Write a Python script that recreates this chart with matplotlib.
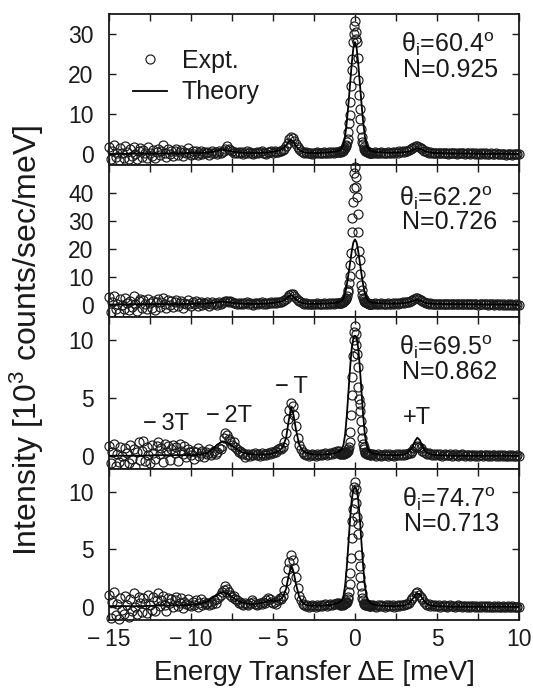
"""
Energy-transfer spectra at four incidence angles: measured points vs. theory.
"""

import numpy as np
import matplotlib
matplotlib.use("Agg")
import matplotlib.pyplot as plt

plt.rcParams["font.family"] = ["Liberation Sans", "DejaVu Sans"]
plt.rcParams["mathtext.fontset"] = "custom"
plt.rcParams["mathtext.rm"] = "Liberation Sans"
plt.rcParams["mathtext.it"] = "Liberation Sans:italic"
plt.rcParams["mathtext.bf"] = "Liberation Sans:bold"

# energy grids of the measured points (meV): coarse wings, finer around the elastic peak
E_LEFT = np.round(-15.0 + 0.1 * np.arange(141), 2)
E_PEAK = np.round(-0.96 + 0.04 * np.arange(49), 2)
E_RIGHT = np.round(1.0 + 0.1 * np.arange(91), 2)

# ---- theta_i = 60.4 deg ----
P1_LEFT = [
    1.8, -1.2, 0.9, 2.4, -0.8, 0.3, -1.5, 1.6, 0.2, -0.9,     # -15.0
    2.1, 0.5, -1.1, 1.2, -0.4, 1.9, 0.1, -1.3, 0.8, 1.5,      # -14.0
    -0.6, 1.1, 0.3, -0.9, 1.7, 0.4, -0.5, 1.0, -1.0, 0.6,     # -13.0
    1.4, -0.3, 0.7, 2.2, 0.2, -0.7, 1.2, 0.0, 0.9, -0.4,      # -12.0
    0.8, 1.3, -0.2, 0.5, 1.0, -0.5, 0.6, 0.2, 1.6, 0.3,       # -11.0
    -0.3, 0.7, 0.1, 0.9, -0.2, 0.4, 0.8, 0.0, 0.5, 0.3,       # -10.0
    0.6, -0.1, 0.4, 0.9, 0.2, 0.5, 0.0, 0.7, 0.3, 0.6,        # -9.0
    0.9, 1.2, 2.0, 1.4, 1.1, 0.8, 0.4, 0.6, 0.2, 0.5,         # -8.0
    0.3, 0.6, 0.1, 0.4, 0.7, 0.2, 0.5, 0.3, 0.0, 0.4,         # -7.0
    0.6, 0.2, 0.5, 0.8, 0.3, 0.4, 0.1, 0.6, 0.5, 0.7,         # -6.0
    0.4, 0.8, 0.5, 0.6, 0.9, 0.7, 1.0, 1.4, 2.0, 2.9,         # -5.0
    3.8, 4.3, 4.1, 3.4, 2.6, 1.8, 1.2, 0.9, 0.6, 0.4,         # -4.0
    0.5, 0.2, 0.4, 0.3, 0.1, 0.4, 0.2, 0.5, 0.3, 0.4,         # -3.0
    0.3, 0.5, 0.2, 0.4, 0.6, 0.3, 0.5, 0.4, 0.6, 0.5,         # -2.0
    0.6,                                                      # -1.0
]
P1_PEAK = [
    0.6, 0.7, 0.6, 0.8, 0.9, 0.9, 1.0, 1.2, 1.4, 1.6,         # -0.96
    2.0, 2.4, 3.0, 3.9, 5.6, 7.7, 9.8, 13.0, 17.0, 21.0,      # -0.56
    23.8, 28.0, 30.0, 32.0, 33.3, 30.6, 28.7, 28.0, 23.9, 18.5,  # -0.16
    14.8, 11.4, 8.9, 6.2, 4.3, 3.0, 2.5, 1.9, 1.4, 1.1,       # 0.24
    0.9, 0.8, 0.7, 0.6, 0.5, 0.5, 0.4, 0.4, 0.3,              # 0.64
]
P1_RIGHT = [
    0.4, 0.3, 0.5, 0.2, 0.4, 0.3, 0.5, 0.2, 0.4, 0.3,         # 1.0
    0.5, 0.3, 0.4, 0.6, 0.3, 0.5, 0.4, 0.7, 0.5, 0.8,         # 2.0
    0.6, 0.9, 0.7, 1.0, 1.2, 1.5, 1.8, 2.0, 2.1, 1.8,         # 3.0
    1.5, 1.2, 0.9, 0.7, 0.5, 0.4, 0.5, 0.3, 0.4, 0.2,         # 4.0
    0.3, 0.4, 0.2, 0.3, 0.4, 0.2, 0.3, 0.1, 0.3, 0.2,         # 5.0
    0.3, 0.2, 0.1, 0.3, 0.2, 0.4, 0.2, 0.1, 0.3, 0.2,         # 6.0
    0.1, 0.2, 0.3, 0.1, 0.2, 0.0, 0.2, 0.1, 0.3, 0.1,         # 7.0
    0.2, 0.0, 0.1, 0.2, 0.1, 0.0, 0.2, 0.1, 0.0, 0.1,         # 8.0
    0.0, 0.1, -0.1, 0.1, 0.0, 0.1, -0.1, 0.0, 0.1, 0.0,       # 9.0
    0.0,                                                      # 10.0
]

# ---- theta_i = 62.2 deg ----
P2_LEFT = [
    2.8, -2.5, 1.2, 3.1, -1.4, 0.5, -2.8, 2.2, 0.1, -1.6,
    2.5, 0.8, -1.9, 1.6, -0.7, 3.3, 0.3, -2.1, 1.4, 2.0,
    -1.0, 1.8, 0.4, -1.5, 2.3, 0.6, -0.9, 1.5, -1.7, 0.9,
    2.0, -0.6, 1.1, 2.4, 0.3, -1.2, 1.7, 0.0, 1.3, -0.8,
    1.2, 1.9, -0.4, 0.7, 1.5, -0.9, 0.8, 0.2, 1.8, 0.4,
    -0.5, 1.0, 0.2, 1.3, -0.4, 0.6, 1.1, 0.0, 0.8, 0.3,
    0.9, -0.2, 0.5, 1.2, 0.3, 0.7, -0.1, 0.9, 0.4, 0.8,
    1.0, 1.3, 1.6, 1.2, 1.5, 0.9, 0.6, 0.8, 0.3, 0.7,
    0.4, 0.8, 0.2, 0.6, 0.9, 0.3, 0.7, 0.5, 0.1, 0.6,
    0.8, 0.4, 0.7, 1.0, 0.5, 0.6, 0.3, 0.8, 0.7, 0.9,
    0.6, 1.0, 0.7, 0.9, 1.1, 1.0, 1.3, 1.7, 2.3, 3.0,
    3.6, 4.1, 3.9, 3.3, 2.5, 1.8, 1.3, 1.0, 0.7, 0.5,
    0.6, 0.3, 0.5, 0.4, 0.2, 0.5, 0.3, 0.6, 0.4, 0.5,
    0.4, 0.6, 0.3, 0.5, 0.7, 0.4, 0.6, 0.5, 0.7, 0.6,
    0.7,
]
P2_PEAK = [
    0.6, 0.7, 0.8, 0.7, 0.9, 1.0, 1.1, 1.3, 1.5, 1.8,
    2.1, 2.6, 3.3, 4.5, 5.5, 8.0, 10.5, 14.5, 18.5, 26.2,
    31.2, 36.8, 42.0, 47.3, 49.5, 46.0, 42.4, 38.6, 32.6, 26.1,
    19.2, 16.0, 11.0, 7.0, 5.5, 3.5, 2.6, 2.0, 1.5, 1.2,
    1.0, 0.9, 0.8, 0.7, 0.6, 0.5, 0.5, 0.4, 0.4,
]
P2_RIGHT = [
    0.5, 0.3, 0.6, 0.2, 0.5, 0.3, 0.6, 0.2, 0.5, 0.4,
    0.6, 0.3, 0.5, 0.7, 0.4, 0.6, 0.5, 0.8, 0.6, 0.9,
    0.8, 1.0, 0.9, 1.2, 1.4, 1.7, 2.1, 2.4, 2.6, 2.2,
    1.8, 1.4, 1.1, 0.8, 0.6, 0.5, 0.6, 0.4, 0.5, 0.3,
    0.4, 0.5, 0.3, 0.4, 0.5, 0.3, 0.4, 0.2, 0.4, 0.3,
    0.4, 0.3, 0.2, 0.4, 0.3, 0.5, 0.3, 0.2, 0.4, 0.3,
    0.2, 0.3, 0.4, 0.2, 0.3, 0.1, 0.3, 0.2, 0.4, 0.2,
    0.3, 0.1, 0.2, 0.3, 0.2, 0.1, 0.3, 0.2, 0.1, 0.2,
    0.1, 0.2, 0.0, 0.2, 0.1, 0.2, 0.0, 0.1, 0.2, 0.1,
    0.1,
]

# ---- theta_i = 69.5 deg ----
P3_LEFT = [
    0.9, -0.6, 0.4, 1.1, -0.8, 0.2, -0.5, 0.8, 0.0, -0.7,
    0.7, 0.3, -0.6, 1.0, -0.2, 0.6, -0.9, 0.4, 1.2, -0.3,
    0.5, 1.3, -0.4, 0.8, 0.1, -0.6, 1.0, 0.3, -0.2, 0.9,
    1.2, 0.2, 0.7, -0.5, 1.1, 0.4, 0.9, -0.3, 0.6, 1.0,
    0.3, 0.8, -0.4, 1.1, 0.5, 0.2, 0.9, -0.1, 0.6, 0.4,
    0.1, 0.5, -0.2, 0.4, 0.7, 0.0, 0.3, 0.5, -0.1, 0.4,
    0.2, 0.6, 0.1, 0.3, 0.5, 0.2, 0.4, 0.7, 0.6, 0.9,
    1.6, 2.0, 1.8, 1.5, 1.3, 1.0, 1.2, 0.8, 0.6, 0.4,
    0.5, 0.2, 0.3, -0.1, 0.1, 0.2, 0.0, 0.2, 0.1, 0.3,
    0.1, 0.2, 0.0, 0.3, 0.1, 0.2, 0.1, 0.3, 0.2, 0.4,
    0.3, 0.5, 0.4, 0.6, 0.7, 0.6, 0.8, 1.2, 2.0, 3.2,
    4.0, 4.6, 4.3, 3.6, 2.6, 1.6, 1.0, 0.6, 0.4, 0.2,
    0.1, 0.2, 0.0, 0.1, 0.2, 0.1, 0.0, 0.2, 0.1, 0.2,
    0.1, 0.2, 0.3, 0.1, 0.2, 0.3, 0.2, 0.4, 0.3, 0.5,
    0.5,
]
P3_PEAK = [
    0.3, 0.2, 0.3, 0.2, 0.3, 0.2, 0.3, 0.3, 0.2, 0.3,
    0.3, 0.4, 0.4, 0.5, 0.6, 0.8, 1.2, 2.1, 3.6, 5.3,
    6.8, 8.6, 10.0, 10.7, 11.2, 10.5, 9.6, 8.8, 7.7, 6.0,
    4.9, 4.5, 3.9, 3.0, 2.3, 1.6, 1.1, 0.8, 0.6, 0.4,
    0.3, 0.3, 0.2, 0.2, 0.3, 0.2, 0.2, 0.1, 0.2,
]
P3_RIGHT = [
    0.1, 0.2, 0.1, 0.0, 0.2, 0.1, 0.0, 0.1, 0.2, 0.1,
    0.0, 0.2, 0.1, 0.1, 0.0, 0.2, 0.1, 0.2, 0.1, 0.2,
    0.1, 0.2, 0.2, 0.3, 0.3, 0.5, 0.7, 0.8, 0.9, 0.8,
    0.7, 0.5, 0.4, 0.3, 0.2, 0.3, 0.2, 0.1, 0.2, 0.1,
    0.2, 0.1, 0.2, 0.0, 0.1, 0.2, 0.1, 0.1, 0.2, 0.0,
    0.1, 0.2, 0.1, 0.0, 0.1, 0.2, 0.1, 0.0, 0.1, 0.1,
    0.0, 0.1, 0.1, 0.0, 0.1, 0.0, 0.1, 0.1, 0.0, 0.1,
    0.1, 0.0, 0.1, 0.0, 0.1, 0.1, 0.0, 0.1, 0.0, 0.1,
    0.0, 0.1, 0.0, 0.0, 0.1, 0.0, 0.1, 0.0, 0.0, 0.1,
    0.0,
]

# ---- theta_i = 74.7 deg ----
P4_LEFT = [
    1.1, -0.9, 0.5, 1.3, -0.7, 0.3, -1.0, 0.8, -0.2, -0.6,
    1.0, 0.2, -0.8, 0.7, -0.3, 1.2, 0.0, -0.6, 0.9, 0.4,
    -0.4, 0.8, 0.3, -0.5, 1.1, 0.2, -0.2, 0.9, -0.3, 0.6,
    1.2, 0.1, 0.6, 1.0, 0.2, -0.3, 0.8, 0.4, 0.7, 0.0,
    0.6, 0.9, 0.1, 0.4, 0.8, -0.1, 0.5, 0.3, 0.7, 0.2,
    0.1, 0.5, 0.2, 0.6, 0.0, 0.4, 0.7, 0.2, 0.5, 0.3,
    0.4, 0.2, 0.5, 0.3, 0.6, 0.4, 0.7, 0.9, 1.1, 1.3,
    1.5, 1.8, 1.6, 1.3, 1.1, 0.9, 1.0, 0.7, 0.6, 0.4,
    0.5, 0.3, 0.2, 0.4, 0.3, 0.2, 0.4, 0.6, 0.5, 0.3,
    0.2, 0.3, 0.4, 0.3, 0.5, 0.4, 0.6, 0.8, 0.7, 0.5,
    0.4, 0.5, 0.3, 0.6, 0.8, 0.7, 1.0, 1.5, 2.3, 3.3,
    3.9, 4.5, 4.1, 3.4, 2.6, 1.7, 1.0, 0.6, 0.3, 0.2,
    0.1, 0.2, 0.0, 0.1, 0.2, 0.1, 0.0, 0.2, 0.1, 0.2,
    0.1, 0.2, 0.3, 0.1, 0.2, 0.3, 0.2, 0.3, 0.3, 0.4,
    0.4,
]
P4_PEAK = [
    0.3, 0.2, 0.3, 0.2, 0.3, 0.3, 0.2, 0.3, 0.3, 0.4,
    0.4, 0.5, 0.5, 0.7, 0.9, 1.3, 2.0, 3.0, 4.3, 6.0,
    7.5, 8.5, 9.8, 10.4, 10.8, 10.2, 9.0, 7.8, 7.2, 6.3,
    4.5, 3.6, 2.6, 1.8, 1.2, 0.8, 0.6, 0.4, 0.3, 0.3,
    0.2, 0.2, 0.3, 0.2, 0.2, 0.1, 0.2, 0.1, 0.2,
]
P4_RIGHT = [
    0.1, 0.2, 0.1, 0.0, 0.2, 0.1, 0.2, 0.1, 0.0, 0.2,
    0.1, 0.2, 0.1, 0.2, 0.0, 0.1, 0.2, 0.1, 0.2, 0.2,
    0.2, 0.3, 0.3, 0.4, 0.6, 0.8, 1.0, 1.2, 1.3, 1.1,
    0.9, 0.7, 0.5, 0.3, 0.2, 0.3, 0.1, 0.2, 0.1, 0.2,
    0.1, 0.2, 0.0, 0.1, 0.2, 0.1, 0.0, 0.1, 0.2, 0.1,
    0.1, 0.0, 0.1, 0.2, 0.1, 0.0, 0.1, 0.1, 0.0, 0.1,
    0.0, 0.1, 0.1, 0.0, 0.1, 0.0, 0.1, 0.0, 0.1, 0.0,
    0.1, 0.0, 0.1, 0.0, 0.0, 0.1, 0.0, 0.1, 0.0, 0.0,
    0.1, 0.0, 0.0, 0.1, 0.0, 0.0, 0.1, 0.0, 0.0, 0.0,
    0.0,
]

# theory curves (same energy points for all four panels)
THEORY_E = [
    -15.0, -14.0, -13.0, -12.0, -11.0, -10.0, -9.5, -9.0, -8.7, -8.4,
    -8.1, -7.8, -7.5, -7.2, -6.9, -6.5, -6.0, -5.5, -5.2, -4.9,
    -4.6, -4.4, -4.2, -4.05, -3.9, -3.75, -3.6, -3.4, -3.2, -3.0,
    -2.7, -2.3, -2.0, -1.5, -1.2, -1.0, -0.8, -0.7, -0.6, -0.5,
    -0.4, -0.3, -0.2, -0.1, 0.0, 0.1, 0.2, 0.3, 0.4, 0.5,
    0.6, 0.7, 0.8, 1.0, 1.2, 1.5, 2.0, 2.5, 3.0, 3.3,
    3.5, 3.65, 3.8, 3.95, 4.1, 4.3, 4.6, 5.0, 6.0, 7.0,
    8.0, 9.0, 10.0,
]
THEORY_P1 = [
    0.1, 0.1, 0.2, 0.2, 0.2, 0.3, 0.3, 0.4, 0.6, 0.9,
    1.1, 1.0, 0.7, 0.5, 0.4, 0.3, 0.3, 0.4, 0.5, 0.7,
    1.0, 1.4, 2.2, 3.1, 3.6, 3.1, 2.1, 1.1, 0.6, 0.4,
    0.3, 0.3, 0.4, 0.5, 0.7, 0.9, 1.4, 2.4, 4.5, 8.0,
    12.5, 17.5, 22.5, 26.5, 28.0, 26.5, 22.5, 17.5, 12.5, 8.0,
    4.5, 2.4, 1.4, 0.8, 0.6, 0.5, 0.4, 0.4, 0.5, 0.7,
    1.0, 1.3, 1.5, 1.4, 1.1, 0.7, 0.4, 0.3, 0.2, 0.2,
    0.1, 0.1, 0.1,
]
THEORY_P2 = [
    0.2, 0.2, 0.3, 0.3, 0.3, 0.4, 0.4, 0.5, 0.7, 1.0,
    1.2, 1.1, 0.8, 0.6, 0.5, 0.4, 0.4, 0.5, 0.6, 0.8,
    1.1, 1.5, 2.2, 3.0, 3.5, 3.0, 2.0, 1.1, 0.7, 0.5,
    0.4, 0.4, 0.5, 0.6, 0.8, 1.0, 1.5, 2.4, 4.2, 7.2,
    11.0, 15.0, 19.2, 22.4, 23.5, 22.4, 19.2, 15.0, 11.0, 7.2,
    4.2, 2.4, 1.5, 0.9, 0.7, 0.6, 0.5, 0.5, 0.7, 1.0,
    1.4, 1.7, 1.9, 1.7, 1.3, 0.8, 0.5, 0.4, 0.3, 0.3,
    0.2, 0.2, 0.2,
]
THEORY_P3 = [
    0.05, 0.05, 0.05, 0.1, 0.1, 0.1, 0.15, 0.3, 0.6, 1.0,
    1.3, 1.2, 0.9, 0.6, 0.35, 0.2, 0.15, 0.15, 0.2, 0.3,
    0.5, 0.8, 1.6, 3.0, 4.2, 3.6, 2.3, 1.0, 0.5, 0.3,
    0.2, 0.15, 0.15, 0.2, 0.3, 0.4, 0.6, 1.0, 1.9, 3.5,
    5.5, 7.6, 9.3, 10.2, 10.4, 10.2, 9.3, 7.6, 5.5, 3.5,
    1.9, 1.0, 0.6, 0.3, 0.2, 0.15, 0.1, 0.1, 0.15, 0.4,
    0.8, 1.3, 1.6, 1.4, 0.9, 0.4, 0.15, 0.1, 0.05, 0.05,
    0.05, 0.05, 0.05,
]
THEORY_P4 = [
    0.1, 0.1, 0.1, 0.15, 0.15, 0.2, 0.3, 0.5, 0.8, 1.1,
    1.3, 1.2, 0.9, 0.6, 0.4, 0.3, 0.3, 0.45, 0.6, 0.5,
    0.6, 0.9, 1.6, 2.7, 3.5, 3.1, 2.0, 0.9, 0.4, 0.2,
    0.15, 0.15, 0.15, 0.2, 0.3, 0.4, 0.6, 1.0, 1.9, 3.5,
    5.5, 7.6, 9.3, 10.2, 10.4, 10.2, 9.3, 7.6, 5.5, 3.5,
    1.9, 1.0, 0.6, 0.3, 0.2, 0.15, 0.1, 0.1, 0.15, 0.35,
    0.7, 1.0, 1.2, 1.1, 0.8, 0.4, 0.15, 0.1, 0.05, 0.05,
    0.05, 0.05, 0.05,
]

ANGLES = ["60.4", "62.2", "69.5", "74.7"]
NORMS = ["0.925", "0.726", "0.862", "0.713"]
YLIMS = [(-2.8, 35), (-4.3, 50), (-1.05, 12), (-1.1, 12)]
YTICKS = [[0, 10, 20, 30], [0, 10, 20, 30, 40], [0, 5, 10], [0, 5, 10]]
XTICKS = [-15, -10, -5, 0, 5, 10]
XTICKLABELS = ["\u2212\u200915", "\u2212\u200910", "\u2212\u20095", "0", "5", "10"]
XMINOR = [-12.5, -7.5, -2.5, 2.5, 7.5]

# satellite labels in the 69.5 deg panel: text, energy, intensity
PEAK_NAMES = ["\u2212\u20093T", "\u2212\u20092T", "\u2212\u2009T", "+T"]
PEAK_POS = [(-11.55, 2.8), (-7.71, 3.5), (-3.86, 6.0), (3.76, 3.3)]

# angle / normalisation text positions (axes fraction)
THETA_POS = [(0.712, 0.800), (0.708, 0.785), (0.708, 0.800), (0.715, 0.800)]
NORM_POS = [(0.717, 0.630), (0.714, 0.625), (0.714, 0.635), (0.720, 0.633)]

INK = "#1a1a1a"


def main():
    expt = [
        (P1_LEFT, P1_PEAK, P1_RIGHT),
        (P2_LEFT, P2_PEAK, P2_RIGHT),
        (P3_LEFT, P3_PEAK, P3_RIGHT),
        (P4_LEFT, P4_PEAK, P4_RIGHT),
    ]
    theory = [THEORY_P1, THEORY_P2, THEORY_P3, THEORY_P4]
    energy = np.concatenate([E_LEFT, E_PEAK, E_RIGHT])

    fig, axes = plt.subplots(4, 1, sharex=True, figsize=(5.33, 6.88), dpi=100)
    fig.subplots_adjust(left=0.2045, right=0.9737, bottom=0.0988, top=0.9797, hspace=0)

    for i, ax in enumerate(axes):
        left, peak, right = expt[i]
        assert len(left) == len(E_LEFT) and len(peak) == len(E_PEAK) and len(right) == len(E_RIGHT), i
        assert len(theory[i]) == len(THEORY_E), i
        counts = np.concatenate([left, peak, right])

        ax.plot(energy, counts, "o", ms=6.5, mfc="none", mec=INK, mew=0.85,
                clip_on=False, zorder=2, label="Expt.")
        ax.plot(THEORY_E, theory[i], "-", color="black", lw=1.3, zorder=3, label="Theory")

        ax.set_xlim(-15, 10)
        ax.set_ylim(*YLIMS[i])
        ax.set_yticks(YTICKS[i])
        ax.set_xticks(XTICKS)
        ax.set_xticks(XMINOR, minor=True)
        ax.tick_params(which="both", direction="in", top=True, right=True,
                       length=5, width=1.0, colors=INK)
        ax.tick_params(axis="y", labelsize=16.5, pad=11)
        for s in ax.spines.values():
            s.set_linewidth(1.3)
            s.set_color(INK)

        ax.text(*THETA_POS[i], f"\u03b8$_{{\\rm i}}$={ANGLES[i]}$^{{\\rm o}}$",
                transform=ax.transAxes, fontsize=18, ha="left", va="center", color=INK)
        ax.text(*NORM_POS[i], f"N={NORMS[i]}",
                transform=ax.transAxes, fontsize=18, ha="left", va="center", color=INK)

    axes[-1].set_xticks(XTICKS, labels=XTICKLABELS)
    axes[-1].tick_params(axis="x", labelsize=16.5, pad=6)

    for name, (ex, ey) in zip(PEAK_NAMES, PEAK_POS):
        axes[2].text(ex, ey, name, fontsize=17, ha="center", va="center", color=INK)

    axes[0].legend(loc="center left", bbox_to_anchor=(0.0585, 0.586), frameon=False,
                   fontsize=18, handlelength=1.35, handletextpad=0.6, labelspacing=0.3,
                   borderpad=0, borderaxespad=0, numpoints=1, labelcolor=INK)

    fig.text(314 / 533, 0.0225, "Energy Transfer \u0394E [meV]", fontsize=20,
             ha="center", va="center", color=INK)
    fig.text(27 / 533, 0.506, "Intensity [10$^3$ counts/sec/meV]", fontsize=23,
             rotation=90, ha="center", va="center", color=INK)

    fig.savefig("out.png", dpi=100)


if __name__ == "__main__":
    main()
